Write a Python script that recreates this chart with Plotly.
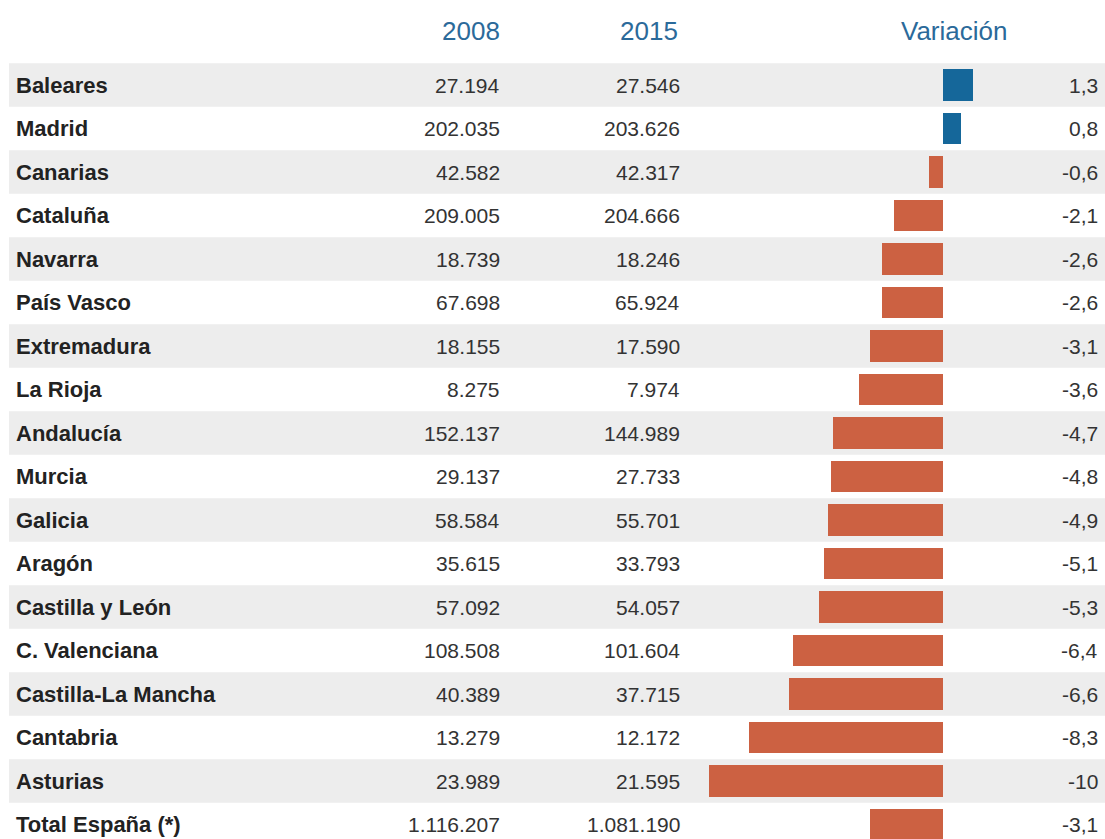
import plotly.graph_objects as go

regions = ["Baleares", "Madrid", "Canarias", "Cataluña", "Navarra", "País Vasco",
           "Extremadura", "La Rioja", "Andalucía", "Murcia", "Galicia", "Aragón",
           "Castilla y León", "C. Valenciana", "Castilla-La Mancha", "Cantabria",
           "Asturias", "Total España (*)"]
v2008 = [27194, 202035, 42582, 209005, 18739, 67698, 18155, 8275, 152137, 29137,
         58584, 35615, 57092, 108508, 40389, 13279, 23989, 1116207]
v2015 = [27546, 203626, 42317, 204666, 18246, 65924, 17590, 7974, 144989, 27733,
         55701, 33793, 54057, 101604, 37715, 12172, 21595, 1081190]
variation = [1.3, 0.8, -0.6, -2.1, -2.6, -2.6, -3.1, -3.6, -4.7, -4.8, -4.9, -5.1,
             -5.3, -6.4, -6.6, -8.3, -10, -3.1]
headers = ["2008", "2015", "Variación"]

W, H = 1105, 839
BLUE = "#15679a"
ORANGE = "#cc6142"
HEAD = "#2b6a9a"
FONT = "Liberation Sans, Arial, sans-serif"


def fmt_int(v):
    return f"{v:,}".replace(",", ".")


def fmt_var(v):
    if float(v).is_integer():
        return str(int(v))
    return f"{v:.1f}".replace(".", ",")


n = len(regions)
ys = list(range(n))
pitch = 43.5
c0 = 85.0
y_top = -c0 / pitch
y_bot = (H - c0) / pitch

zero_px = 942.7
ppu = 23.35
x_min = -zero_px / ppu
x_max = (W - zero_px) / ppu

fig = go.Figure()
fig.add_trace(go.Bar(
    x=variation, y=ys, orientation="h",
    marker=dict(color=[BLUE if v > 0 else ORANGE for v in variation], line=dict(width=0)),
    width=0.72, hoverinfo="skip", showlegend=False,
))

shapes = []
for i in ys:
    if i % 2 == 0 and i < n - 1:
        shapes.append(dict(type="rect", xref="paper", yref="y", x0=9 / W, x1=1,
                           y0=i - 0.5, y1=i + 0.5, fillcolor="#ededed",
                           line=dict(width=0), layer="below"))

annotations = []
for i, r in enumerate(regions):
    annotations.append(dict(x=14 / W, y=i, xref="paper", yref="y", text=f"<b>{r}</b>",
                            showarrow=False, xanchor="left", yanchor="middle",
                            font=dict(family=FONT, size=22, color="#222222")))
    annotations.append(dict(x=502 / W, y=i, xref="paper", yref="y", text=fmt_int(v2008[i]),
                            showarrow=False, xanchor="right", yanchor="middle",
                            font=dict(family=FONT, size=21, color="#333333")))
    annotations.append(dict(x=682 / W, y=i, xref="paper", yref="y", text=fmt_int(v2015[i]),
                            showarrow=False, xanchor="right", yanchor="middle",
                            font=dict(family=FONT, size=21, color="#333333")))
    annotations.append(dict(x=1100 / W, y=i, xref="paper", yref="y", text=fmt_var(variation[i]),
                            showarrow=False, xanchor="right", yanchor="middle",
                            font=dict(family=FONT, size=21, color="#333333")))

head_y = 1 - 31 / H
annotations.append(dict(x=502 / W, y=head_y, xref="paper", yref="paper", text=headers[0],
                        showarrow=False, xanchor="right", yanchor="middle",
                        font=dict(family=FONT, size=26, color=HEAD)))
annotations.append(dict(x=680 / W, y=head_y, xref="paper", yref="paper", text=headers[1],
                        showarrow=False, xanchor="right", yanchor="middle",
                        font=dict(family=FONT, size=26, color=HEAD)))
annotations.append(dict(x=954 / W, y=head_y, xref="paper", yref="paper", text=headers[2],
                        showarrow=False, xanchor="center", yanchor="middle",
                        font=dict(family=FONT, size=26, color=HEAD)))

fig.update_layout(
    width=W, height=H,
    margin=dict(l=0, r=0, t=0, b=0),
    paper_bgcolor="white", plot_bgcolor="white",
    xaxis=dict(range=[x_min, x_max], visible=False, fixedrange=True),
    yaxis=dict(range=[y_bot, y_top], visible=False, fixedrange=True),
    shapes=shapes, annotations=annotations, bargap=0,
)

fig.write_html("out.html")
